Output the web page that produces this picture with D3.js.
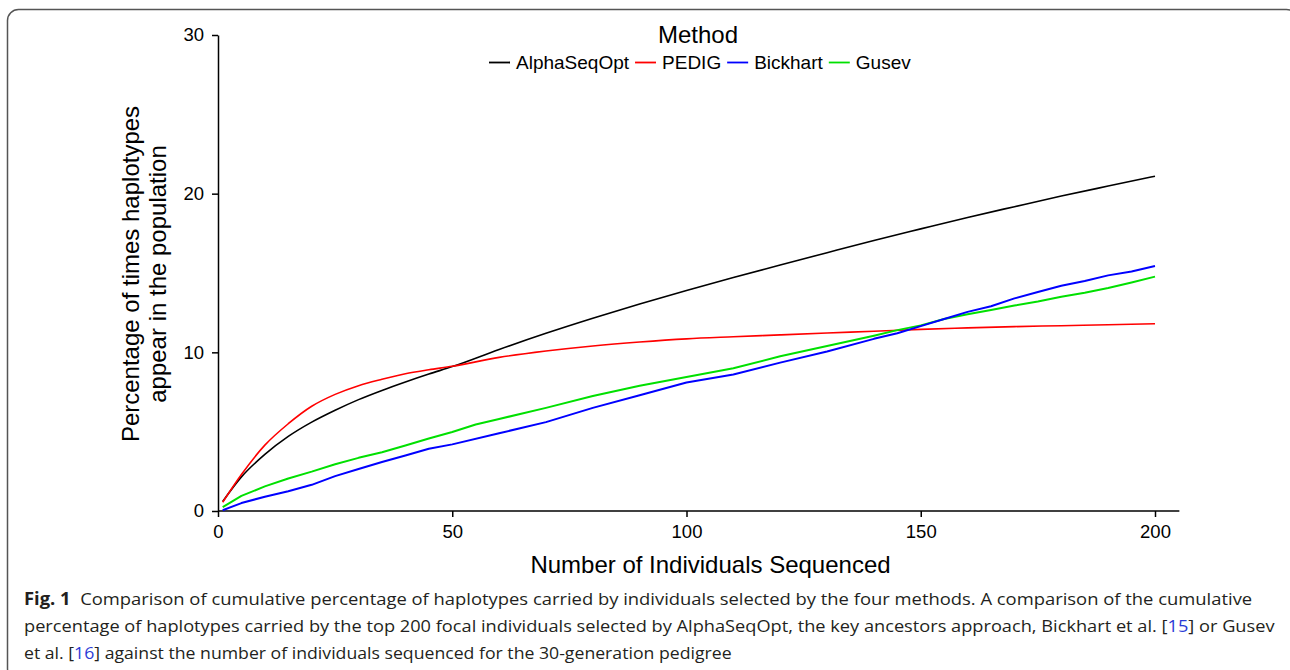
<!DOCTYPE html>
<html>
<head>
<meta charset="utf-8">
<script src="https://cdn.jsdelivr.net/npm/d3@7"></script>
<style>
  body { margin: 0; background: #fff; }
  svg { display: block; }
</style>
</head>
<body>
<div id="chart"></div>
<script>
// values
const methods = ["AlphaSeqOpt", "PEDIG", "Bickhart", "Gusev"];
const colors = ["#000000", "#ff0000", "#0000ff", "#00e000"];

const alphaN = [1, 5, 10, 15, 20, 25, 30, 35, 40, 45, 50, 60, 70, 80, 90, 100, 110, 120, 130, 140, 150, 160, 170, 180, 190, 200];
const alphaV = [0.6, 2.15, 3.57, 4.7, 5.6, 6.35, 7.02, 7.6, 8.13, 8.63, 9.1, 10.18, 11.2, 12.15, 13.05, 13.9, 14.72, 15.5, 16.28, 17.05, 17.78, 18.5, 19.18, 19.85, 20.48, 21.1];

const pedigN = [1, 5, 10, 15, 20, 25, 30, 35, 40, 45, 50, 60, 70, 80, 90, 100, 110, 120, 130, 140, 150, 160, 170, 180, 190, 200];
const pedigV = [0.55, 2.3, 4.15, 5.5, 6.6, 7.35, 7.9, 8.3, 8.65, 8.9, 9.12, 9.68, 10.08, 10.4, 10.65, 10.85, 10.98, 11.1, 11.22, 11.33, 11.45, 11.54, 11.62, 11.68, 11.74, 11.8];

const bickN = [1, 5, 10, 15, 20, 25, 30, 35, 40, 45, 50, 60, 70, 80, 90, 100, 110, 120, 130, 140, 145, 150, 155, 160, 165, 170, 175, 180, 185, 190, 195, 200];
const bickV = [0.05, 0.5, 0.9, 1.25, 1.65, 2.2, 2.65, 3.09, 3.5, 3.92, 4.2, 4.9, 5.6, 6.5, 7.3, 8.1, 8.6, 9.35, 10.05, 10.85, 11.2, 11.65, 12.1, 12.55, 12.9, 13.4, 13.8, 14.2, 14.5, 14.85, 15.1, 15.44];

const gusevN = [1, 5, 10, 15, 20, 25, 30, 35, 40, 45, 50, 55, 60, 70, 80, 90, 100, 110, 120, 130, 140, 145, 150, 155, 160, 165, 170, 175, 180, 185, 190, 195, 200];
const gusevV = [0.25, 0.95, 1.55, 2.05, 2.48, 2.95, 3.35, 3.7, 4.13, 4.57, 4.98, 5.45, 5.8, 6.5, 7.25, 7.9, 8.45, 9.0, 9.75, 10.4, 11.05, 11.4, 11.7, 12.1, 12.4, 12.67, 12.95, 13.2, 13.5, 13.75, 14.05, 14.4, 14.77];

const xTicks = [0, 50, 100, 150, 200];
const yTicks = [0, 10, 20, 30];

const captionLines = [
  [["Fig. 1", "bold"], ["  Comparison of cumulative percentage of haplotypes carried by individuals selected by the four methods. A comparison of the cumulative", null]],
  [["percentage of haplotypes carried by the top 200 focal individuals selected by AlphaSeqOpt, the key ancestors approach, Bickhart et al. [", null], ["15", "link"], ["] or Gusev", null]],
  [["et al. [", null], ["16", "link"], ["] against the number of individuals sequenced for the 30-generation pedigree", null]]
];
const captionWidths = [1229, 1251, 708];

const series = [
  { name: methods[0], color: colors[0], width: 1.6, smooth: true, pts: alphaN.map((n, i) => [n, alphaV[i]]) },
  { name: methods[1], color: colors[1], width: 1.6, smooth: true, pts: pedigN.map((n, i) => [n, pedigV[i]]) },
  { name: methods[2], color: colors[2], width: 2, smooth: false, pts: bickN.map((n, i) => [n, bickV[i]]) },
  { name: methods[3], color: colors[3], width: 2, smooth: false, pts: gusevN.map((n, i) => [n, gusevV[i]]) }
];

const W = 1290, H = 670;
const font = "'Liberation Sans', Arial, sans-serif";

const svg = d3.select("#chart").append("svg")
  .attr("width", W)
  .attr("height", H);

// figure frame
svg.append("rect")
  .attr("x", 7.5).attr("y", 9.5)
  .attr("width", 1290).attr("height", 670)
  .attr("rx", 11)
  .attr("fill", "none")
  .attr("stroke", "#555")
  .attr("stroke-width", 1.5);

const x = d3.scaleLinear().domain([0, 200]).range([218, 1155]);
const y = d3.scaleLinear().domain([0, 30]).range([511, 35]);

// axes
const yAxis = svg.append("g")
  .attr("transform", `translate(${x(0)},0)`)
  .call(d3.axisLeft(y).tickValues(yTicks).tickSize(6).tickPadding(8).tickSizeOuter(0));
yAxis.select(".domain").attr("stroke", "#000").attr("stroke-width", 1.5);
yAxis.selectAll(".tick line").attr("stroke-width", 1.5);
yAxis.selectAll(".tick text").style("font-family", font).style("font-size", "18.5px").attr("fill", "#000");

const xAxis = svg.append("g")
  .attr("transform", `translate(0,${y(0)})`)
  .call(d3.axisBottom(x).tickValues(xTicks).tickSize(6).tickPadding(8).tickSizeOuter(0));
xAxis.select(".domain").attr("d", `M${x(0)},0H${x(205.2)}`).attr("stroke", "#000").attr("stroke-width", 1.5);
xAxis.selectAll(".tick line").attr("stroke-width", 1.5);
xAxis.selectAll(".tick text").style("font-family", font).style("font-size", "18.5px").attr("fill", "#000");

// axis titles
svg.append("text")
  .attr("x", 710.5).attr("y", 573)
  .attr("text-anchor", "middle")
  .style("font-family", font).style("font-size", "24px")
  .text("Number of Individuals Sequenced");

const yTitle = svg.append("text")
  .attr("transform", "translate(139,274) rotate(-90)")
  .attr("text-anchor", "middle")
  .style("font-family", font).style("font-size", "24px");
yTitle.append("tspan").attr("x", 0).attr("y", 0).text("Percentage of times haplotypes");
yTitle.append("tspan").attr("x", 0).attr("y", 27).text("appear in the population");

// lines
const lineSmooth = d3.line().x(d => x(d[0])).y(d => y(d[1])).curve(d3.curveMonotoneX);
const lineRaw = d3.line().x(d => x(d[0])).y(d => y(d[1]));

svg.append("g").selectAll("path")
  .data([series[0], series[1], series[3], series[2]])
  .join("path")
  .attr("d", s => (s.smooth ? lineSmooth : lineRaw)(s.pts))
  .attr("fill", "none")
  .attr("stroke", s => s.color)
  .attr("stroke-width", s => s.width)
  .attr("stroke-linejoin", "round");

// legend
svg.append("text")
  .attr("x", 698).attr("y", 43)
  .attr("text-anchor", "middle")
  .style("font-family", font).style("font-size", "24px")
  .text("Method");

const legend = svg.append("g");
let lx = 489;
series.forEach(s => {
  legend.append("line")
    .attr("x1", lx).attr("x2", lx + 21)
    .attr("y1", 62.5).attr("y2", 62.5)
    .attr("stroke", s.color).attr("stroke-width", 1.8);
  const t = legend.append("text")
    .attr("x", lx + 27).attr("y", 69)
    .style("font-family", font).style("font-size", "19px")
    .text(s.name);
  lx += 27 + t.node().getComputedTextLength() + 6;
});

// caption
const capFont = "'Open Sans', 'Noto Sans', sans-serif";
captionLines.forEach((parts, i) => {
  const t = svg.append("text")
    .attr("y", 605 + i * 27)
    .style("font-family", capFont).style("font-size", "17px")
    .attr("fill", "#231f20");
  parts.forEach(([str, kind]) => {
    const sp = t.append("tspan").text(str).attr("xml:space", "preserve").style("white-space", "pre");
    if (kind === "bold") sp.style("font-weight", "700");
    if (kind === "link") sp.attr("fill", "#2b3bd6");
  });
  const natural = t.node().getComputedTextLength();
  const sx = captionWidths[i] / natural;
  t.attr("transform", `translate(24,0) scale(${sx},1)`);
});
</script>
</body>
</html>
